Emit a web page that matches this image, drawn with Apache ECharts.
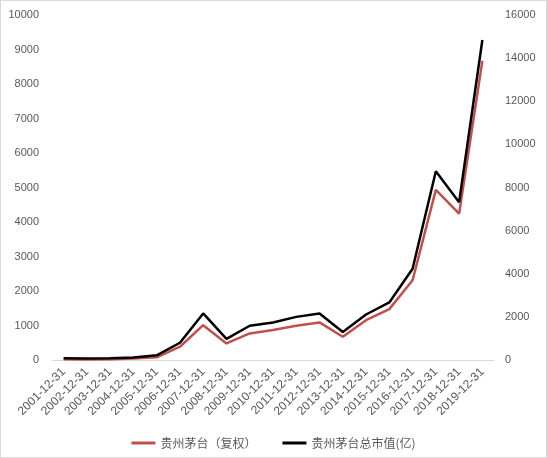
<!DOCTYPE html>
<html>
<head>
<meta charset="utf-8">
<script src="https://cdn.jsdelivr.net/npm/echarts@6/dist/echarts.min.js"></script>
<style>
html,body{margin:0;padding:0;background:#fff;}
#c{width:547px;height:458px;box-sizing:border-box;border:1px solid #d9d9d9;}
</style>
</head>
<body>
<div id="c"></div>
<script>
const categories = ['2001-12-31','2002-12-31','2003-12-31','2004-12-31','2005-12-31','2006-12-31','2007-12-31','2008-12-31','2009-12-31','2010-12-31','2011-12-31','2012-12-31','2013-12-31','2014-12-31','2015-12-31','2016-12-31','2017-12-31','2018-12-31','2019-12-31'];
const adjPrice = [20, 18, 25, 45, 78, 385, 1010, 480, 770, 867, 990, 1090, 675, 1155, 1475, 2310, 4930, 4240, 8670];
const marketCap = [80, 70, 80, 120, 217, 800, 2160, 980, 1590, 1740, 2000, 2160, 1295, 2110, 2670, 4230, 8750, 7320, 14840];
const leftTicks = {min: 0, max: 10000, interval: 1000};
const rightTicks = {min: 0, max: 16000, interval: 2000};
const seriesNames = ['贵州茅台（复权）', '贵州茅台总市值(亿)'];

const chart = echarts.init(document.getElementById('c'), null, {renderer: 'canvas'});
const yFont = {color: '#595959', fontSize: 11, fontFamily: 'Liberation Sans, Arial, sans-serif'};
const xFont = {color: '#595959', fontSize: 12, fontFamily: 'Liberation Sans, Arial, sans-serif'};
const plain = v => String(v);
chart.setOption({
  animation: false,
  backgroundColor: '#fff',
  grid: {left: 51, right: 52, top: 14, bottom: 97, containLabel: false},
  legend: {
    data: seriesNames,
    bottom: 3,
    left: 'center',
    icon: 'rect',
    itemWidth: 24,
    itemHeight: 3,
    itemGap: 26,
    textStyle: {color: '#595959', fontSize: 12, fontFamily: 'Noto Sans CJK SC, sans-serif'}
  },
  xAxis: {
    type: 'category',
    data: categories,
    boundaryGap: true,
    axisLine: {lineStyle: {color: '#d9d9d9', width: 1}},
    axisTick: {show: false},
    axisLabel: Object.assign({rotate: 45, interval: 0, margin: 10}, xFont)
  },
  yAxis: [
    Object.assign({
      type: 'value',
      position: 'left',
      axisLine: {show: false},
      axisTick: {show: false},
      splitLine: {show: false},
      axisLabel: Object.assign({margin: 13, formatter: plain}, yFont)
    }, leftTicks),
    Object.assign({
      type: 'value',
      position: 'right',
      axisLine: {show: false},
      axisTick: {show: false},
      splitLine: {show: false},
      axisLabel: Object.assign({margin: 11, formatter: plain}, yFont)
    }, rightTicks)
  ],
  series: [
    {
      name: seriesNames[0],
      type: 'line',
      yAxisIndex: 0,
      data: adjPrice,
      symbol: 'none',
      color: '#c0504d',
      lineStyle: {color: '#c0504d', width: 2.5}
    },
    {
      name: seriesNames[1],
      type: 'line',
      yAxisIndex: 1,
      data: marketCap,
      symbol: 'none',
      color: '#000000',
      lineStyle: {color: '#000000', width: 2.5}
    }
  ]
});
</script>
</body>
</html>
